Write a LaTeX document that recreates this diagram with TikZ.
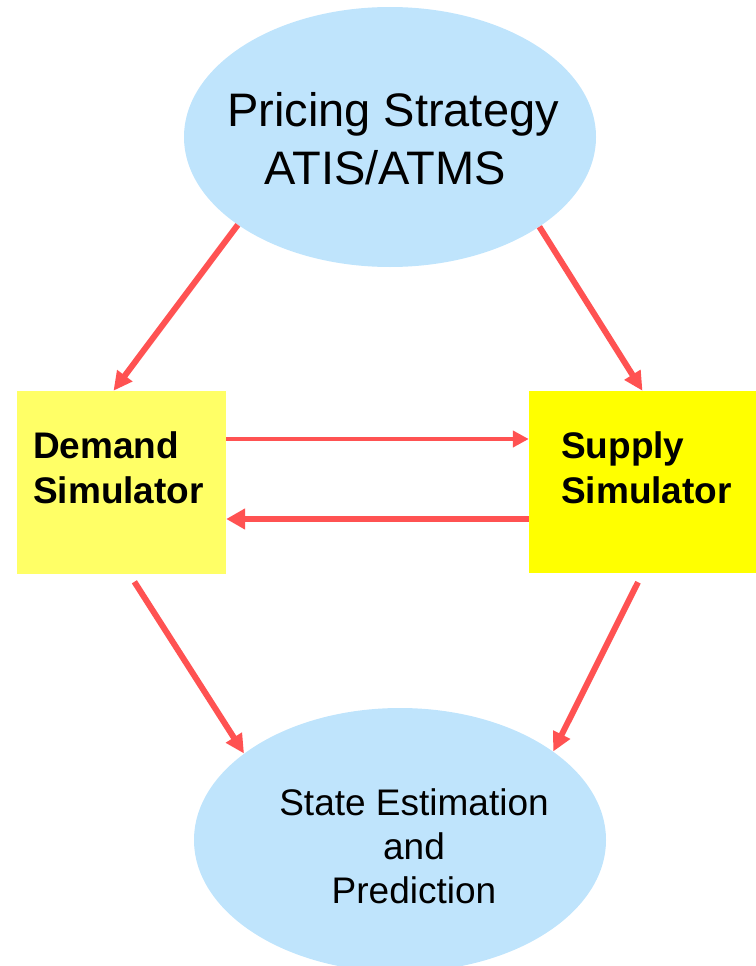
\documentclass[tikz,border=0pt]{standalone}
\usepackage{fontspec}
\setmainfont{Liberation Sans}
\usetikzlibrary{arrows.meta,shapes.geometric}
\definecolor{bubblefill}{RGB}{191,228,252}
\definecolor{demandyel}{RGB}{255,255,102}
\definecolor{supplyyel}{RGB}{255,255,0}
\definecolor{arrowred}{RGB}{255,82,82}
\begin{document}
\begin{tikzpicture}[x=1pt,y=-1pt,
  bubble/.style={ellipse, fill=bubblefill, draw=none, inner sep=0pt, minimum width=412pt},
  simbox/.style={rectangle, draw=none, inner sep=0pt},
  boxtext/.style={inner sep=0pt, anchor=west, align=left, font=\bfseries\fontsize{37}{45}\selectfont},
  flow/.style={draw=arrowred, line width=6pt, -{Triangle[length=19pt,width=18pt]}},
  flowthin/.style={draw=arrowred, line width=4.5pt, -{Triangle[length=16pt,width=16pt]}},
  flowthick/.style={draw=arrowred, line width=6.5pt, -{Triangle[length=19pt,width=20pt]}}]
\useasboundingbox (0,0) rectangle (755,966);

% nodes
\node[bubble, minimum height=260pt] (pricing) at (390,137) {};
\node[inner sep=0pt, align=center, font=\fontsize{47}{58}\selectfont] (pricingtxt) at (385,139) {\hspace*{16pt}Pricing Strategy\\ATIS/ATMS};

\node[simbox, fill=demandyel, minimum width=209pt, minimum height=183pt] (demand) at (121.5,482.5) {};
\node[boxtext] (demandtxt) at (33,467.5) {Demand\\Simulator};

\node[simbox, fill=supplyyel, minimum width=227pt, minimum height=182pt] (supply) at (642.5,482) {};
\node[boxtext] (supplytxt) at (561,467.5) {Supply\\Simulator};

\node[bubble, minimum height=264pt] (state) at (400,840) {};
\node[inner sep=0pt, align=center, font=\fontsize{37}{44}\selectfont] (statetxt) at (414,846) {State Estimation\\and\\Prediction};

% connectors
\draw[flow] (pricing.210) -- (demand.95);
\draw[flow] (pricing.-31) -- (supply.north);
\draw[flowthin] ([yshift=43.5pt]demand.east) -- ([yshift=43pt]supply.west);
\draw[flowthick] ([yshift=-37pt]supply.west) -- ([yshift=-36.5pt]demand.east);
\draw[flow, shorten <=9pt] (demand.-85) -- (state.151);
\draw[flow, shorten <=10pt] (supply.south) -- (state.30);
\end{tikzpicture}
\end{document}
